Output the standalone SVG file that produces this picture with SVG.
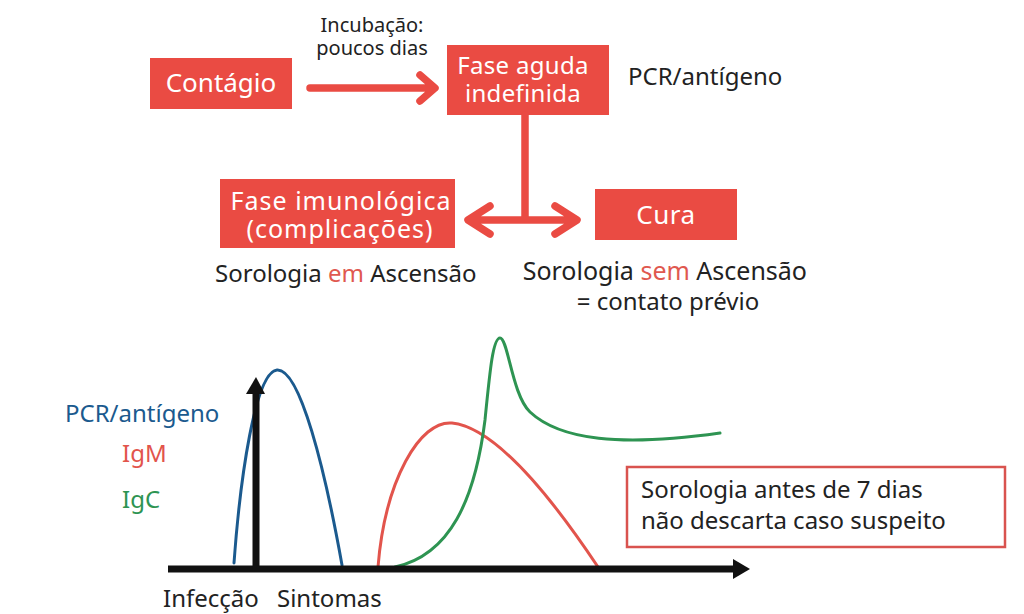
<svg xmlns="http://www.w3.org/2000/svg" width="1024" height="614" viewBox="0 0 1024 614">
<defs>
<style>
text{font-family:"Noto Sans","Liberation Sans",sans-serif;}
.box{fill:#ea4b43;}
.bt{fill:#ffffff;text-anchor:middle;}
.lbl{fill:#222222;font-size:24px;}
.red{fill:#e0584f;}
.conn{fill:none;stroke:#ea4b43;stroke-width:7.5;stroke-linecap:round;stroke-linejoin:round;}
.axis{stroke:#111;stroke-width:7;fill:none;}
.curve{fill:none;stroke-width:3;stroke-linecap:round;}
</style>
</defs>
<rect width="1024" height="614" fill="#ffffff"/>

<g id="contagio">
<rect class="box" x="150" y="58" width="142" height="51"/>
<text class="bt" x="221" y="92" font-size="26">Contágio</text>
</g>
<g id="fase-aguda">
<rect class="box" x="447" y="45" width="162" height="70"/>
<text class="bt" x="523" y="74" font-size="24" letter-spacing="0.3">Fase aguda</text>
<text class="bt" x="523" y="102" font-size="24" letter-spacing="0.3">indefinida</text>
</g>
<g id="fase-imuno">
<rect class="box" x="220" y="179" width="235" height="69"/>
<text class="bt" x="341" y="210" font-size="25" letter-spacing="1">Fase imunológica</text>
<text class="bt" x="340" y="238" font-size="25" letter-spacing="1">(complicações)</text>
</g>
<g id="cura">
<rect class="box" x="595" y="189" width="142" height="51"/>
<text class="bt" x="666" y="224" font-size="26" letter-spacing="0.5">Cura</text>
</g>

<g id="connectors">
<path class="conn" d="M310 88 H434 M420 75 L435 88 L420 101"/>
<path class="conn" d="M525 115 V220 M470 220 H574 M490 206 L468 220 L490 234 M555 206 L577 220 L555 234"/>
</g>

<g id="labels">
<text fill="#222" x="372" y="32" text-anchor="middle" font-size="20">Incubação:</text>
<text fill="#222" x="372" y="55" text-anchor="middle" font-size="20">poucos dias</text>
<text class="lbl" x="628" y="85">PCR/antígeno</text>
<text class="lbl" x="215" y="282">Sorologia <tspan class="red">em</tspan> Ascensão</text>
<text class="lbl" x="807" y="280" text-anchor="end" font-size="25" style="font-size:25px">Sorologia <tspan class="red">sem</tspan> Ascensão</text>
<text class="lbl" x="668" y="310" text-anchor="middle">= contato prévio</text>
</g>

<g id="chart">
<path class="curve" stroke="#1b5a8e" d="M234 563 C240 480 255 372 277 370 C300 368 325 470 342 565"/>
<path class="curve" stroke="#e2544c" d="M378 567 C385 480 420 420 452 423 C500 428 560 510 598 567"/>
<path class="curve" stroke="#2e9452" d="M395 567 C450 555 475 500 485 420 C490 370 493 338 500 338 C508 338 512 395 530 412 C560 440 620 447 720 433"/>
<path class="axis" d="M168 569 H735"/>
<path d="M733 559 L750 569 L733 579 Z" fill="#111"/>
<path class="axis" d="M256 569 V392"/>
<path d="M246 394 L256 377 L265 394 Z" fill="#111"/>
<text x="65" y="422" font-size="24" fill="#1b5a8e">PCR/antígeno</text>
<text x="122" y="462" font-size="24" fill="#e2544c">IgM</text>
<text x="122" y="508" font-size="24" fill="#2e9452">IgC</text>
<text class="lbl" x="163" y="607">Infecção</text>
<text class="lbl" x="277" y="607">Sintomas</text>
</g>

<g id="nota">
<rect x="627" y="467" width="378" height="80" fill="#ffffff" stroke="#d9534f" stroke-width="2.5"/>
<text class="lbl" x="641" y="498">Sorologia antes de 7 dias</text>
<text class="lbl" x="641" y="529">não descarta caso suspeito</text>
</g>
</svg>
